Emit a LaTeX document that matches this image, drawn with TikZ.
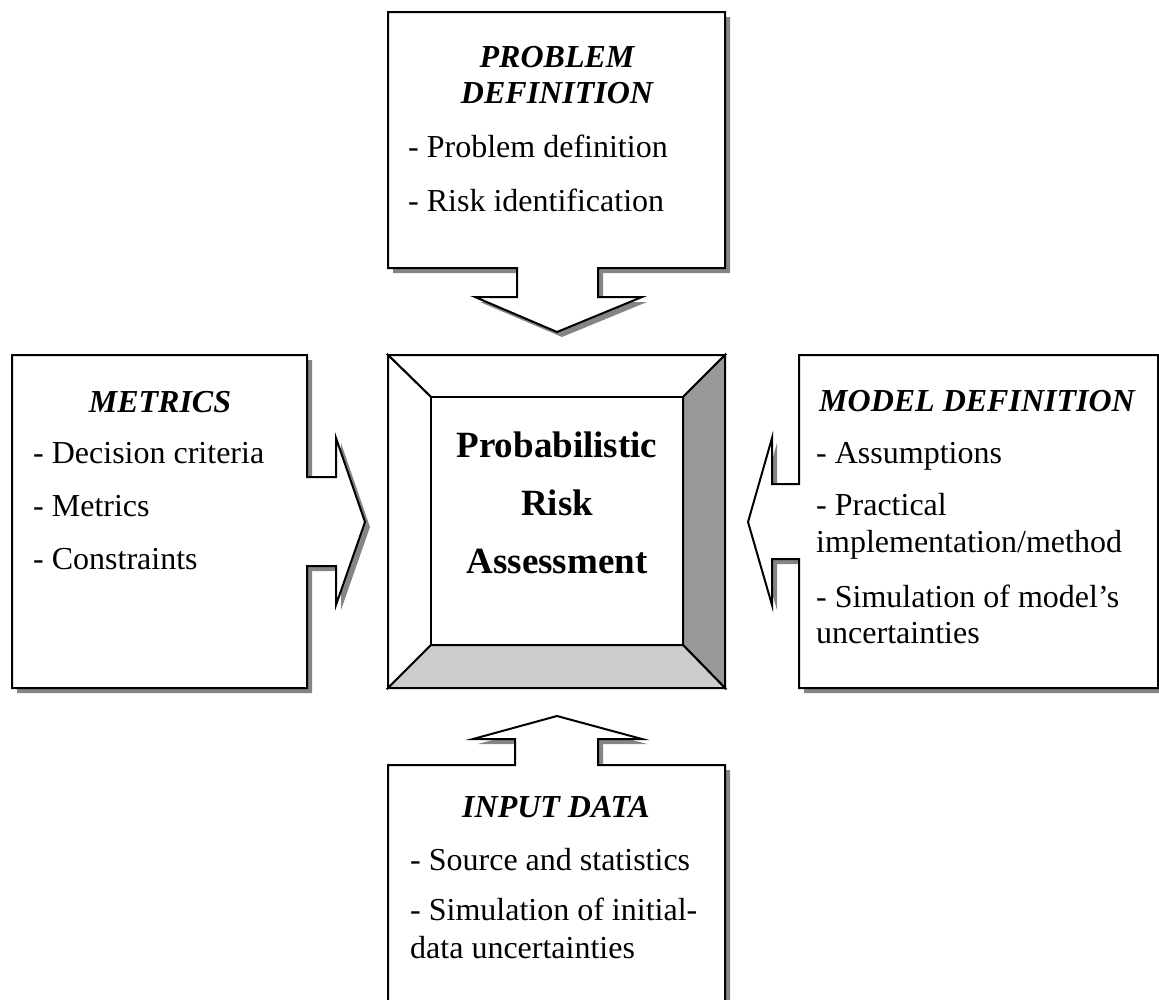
\documentclass[tikz,border=0pt]{standalone}
\usepackage{fontspec}
\setmainfont{Liberation Serif}
\begin{document}
\begin{tikzpicture}[x=1pt,y=-1pt,
  callout/.style={draw=black, fill=white, line width=2pt, line join=miter,
    preaction={fill=black!48, draw=none, transform canvas={shift={(5pt,-5pt)}}}},
  bevel/.style={draw=black, line width=2pt, line join=miter},
  body/.style={anchor=base west, inner sep=0pt, font=\fontsize{32}{37}\selectfont},
  ttl/.style={anchor=base, inner sep=0pt, font=\fontsize{32}{37}\selectfont\bfseries\itshape},
  ctr/.style={anchor=base, inner sep=0pt, font=\fontsize{37}{44}\selectfont\bfseries}]
\clip (0,0) rectangle (1159,999);
\fill[white] (0,0) rectangle (1159,999);

% top callout (problem definition)
\path[callout] (388,12) -- (725,12) -- (725,268) -- (598,268) -- (598,297) -- (642,297)
  -- (557,332) -- (475,297) -- (517,297) -- (517,268) -- (388,268) -- cycle;
% left callout (metrics)
\path[callout] (12,355) -- (307,355) -- (307,477) -- (336,477) -- (336,438) -- (365,522)
  -- (336,605) -- (336,566) -- (307,566) -- (307,688) -- (12,688) -- cycle;
% right callout (model definition)
\path[callout] (799,355) -- (1158,355) -- (1158,688) -- (799,688) -- (799,559) -- (772,559)
  -- (772,605) -- (748,522) -- (772,438) -- (772,484) -- (799,484) -- cycle;
% bottom callout (input data)
\path[callout] (388,1030) -- (388,765) -- (515,765) -- (515,739) -- (473,739) -- (557,716)
  -- (642,739) -- (598,739) -- (598,765) -- (725,765) -- (725,1030) -- cycle;

% center bevelled box
\path[bevel, fill=white] (388,355) -- (725,355) -- (683,397) -- (431,397) -- cycle;
\path[bevel, fill=white] (388,355) -- (431,397) -- (431,645) -- (388,688) -- cycle;
\path[bevel, fill=black!40] (725,355) -- (725,688) -- (683,645) -- (683,397) -- cycle;
\path[bevel, fill=black!20] (388,688) -- (725,688) -- (683,645) -- (431,645) -- cycle;
\path[bevel, fill=white] (431,397) rectangle (683,645);

\node[ctr] (c1) at (557,457) {Probabilistic};
\node[ctr] (c2) at (557,515) {Risk};
\node[ctr] (c3) at (557,573) {Assessment};

% top texts
\node[ttl] (p0) at (557,67) {PROBLEM};
\node[ttl] (p1) at (557,103) {DEFINITION};
\node[body] (p2) at (408,157) {- Problem definition};
\node[body] (p3) at (408,211) {- Risk identification};

% left texts
\node[ttl] (m0) at (160,412) {METRICS};
\node[body] (m1) at (33,463) {- Decision criteria};
\node[body] (m2) at (33,516) {- Metrics};
\node[body] (m3) at (33,569) {- Constraints};

% right texts
\node[ttl] (d0) at (977,411) {MODEL DEFINITION};
\node[body] (d1) at (816,463) {- Assumptions};
\node[body] (d2) at (816,515) {- Practical};
\node[body] (d3) at (816,552) {implementation/method};
\node[body] (d4) at (816,607) {- Simulation of model’s};
\node[body] (d5) at (816,643) {uncertainties};

% bottom texts
\node[ttl] (i0) at (556,817) {INPUT DATA};
\node[body] (i1) at (410,870) {- Source and statistics};
\node[body] (i2) at (410,920) {- Simulation of initial-};
\node[body] (i3) at (410,958) {data uncertainties};
\end{tikzpicture}
\end{document}
